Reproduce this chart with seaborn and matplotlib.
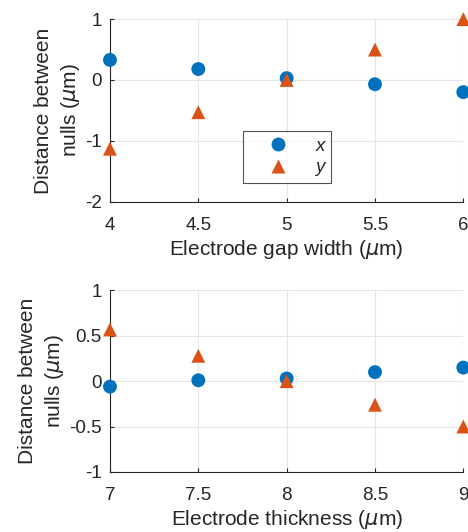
import numpy as np
import pandas as pd
import seaborn as sns
import matplotlib.pyplot as plt

gap_width = [4, 4.5, 5, 5.5, 6]
gap_x = [0.33, 0.18, 0.03, -0.07, -0.20]
gap_y = [-1.13, -0.53, 0.0, 0.50, 1.0]

thickness = [7, 7.5, 8, 8.5, 9]
thick_x = [-0.06, 0.01, 0.03, 0.10, 0.15]
thick_y = [0.57, 0.28, 0.0, -0.26, -0.50]

series_names = ["x", "y"]
colors = {"x": "#0072BD", "y": "#D95319"}
markers = {"x": "o", "y": "^"}

sns.set_style("white")
plt.rcParams['font.family'] = ['Liberation Sans', 'DejaVu Sans']
plt.rcParams['mathtext.fontset'] = 'dejavusans'


def long_form(xs, a, b):
    return pd.DataFrame({
        "pos": list(xs) + list(xs),
        "dist": list(a) + list(b),
        "axis": [series_names[0]] * len(xs) + [series_names[1]] * len(xs),
    })


fig = plt.figure(figsize=(4.68, 5.32), dpi=100)
ax1 = fig.add_axes([0.235, 0.621, 0.755, 0.343])
ax2 = fig.add_axes([0.235, 0.113, 0.755, 0.341])

panels = [
    (ax1, long_form(gap_width, gap_x, gap_y), (4, 6), (-2, 1), [-2, -1, 0, 1],
     [4, 4.5, 5, 5.5, 6], "Electrode gap width ($\\mu$m)"),
    (ax2, long_form(thickness, thick_x, thick_y), (7, 9), (-1, 1), [-1, -0.5, 0, 0.5, 1],
     [7, 7.5, 8, 8.5, 9], "Electrode thickness ($\\mu$m)"),
]

for i, (ax, df, xl, yl, yt, xt, xlabel) in enumerate(panels):
    sns.scatterplot(data=df, x="pos", y="dist", hue="axis", style="axis",
                    palette=colors, markers=markers, s=100, edgecolor="none",
                    clip_on=False, zorder=3, ax=ax, legend=(i == 0))
    ax.set_xlim(*xl)
    ax.set_ylim(*yl)
    ax.set_xticks(xt)
    ax.set_xticklabels([f"{v:g}" for v in xt])
    ax.set_yticks(yt)
    ax.set_yticklabels([f"{v:g}" for v in yt])
    ax.grid(True, color="#e6e6e6", linewidth=0.8)
    ax.set_axisbelow(True)
    for side in ["top", "right"]:
        ax.spines[side].set_visible(False)
    for side in ["left", "bottom"]:
        ax.spines[side].set_color("#262626")
        ax.spines[side].set_linewidth(0.8)
    ax.tick_params(axis="both", labelsize=13.5, colors="#262626", direction="in",
                   length=3, left=True, bottom=True)
    ax.tick_params(axis="x", pad=11)
    ax.tick_params(axis="y", pad=6)
    ax.set_xlabel(xlabel, fontsize=15, color="#262626", labelpad=3)
    ax.set_ylabel("Distance between\nnulls ($\\mu$m)", fontsize=15, color="#262626",
                  labelpad=2, linespacing=1.35)

leg = ax1.legend(loc="upper left", bbox_to_anchor=(0.377, 0.388), frameon=True,
                 fancybox=False, edgecolor="#262626", markerscale=1.0,
                 borderaxespad=0, handletextpad=0.5, borderpad=0.35,
                 labelspacing=0.25, handlelength=3.0,
                 prop={"style": "italic", "size": 13.5})
leg.get_frame().set_linewidth(0.8)

fig.savefig("out.png", dpi=100)
